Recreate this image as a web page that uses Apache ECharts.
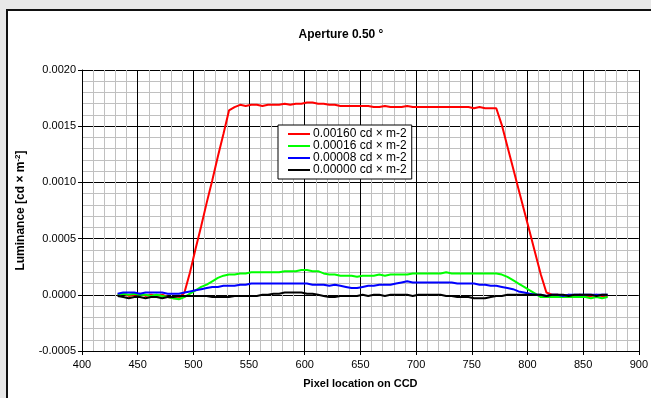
<!DOCTYPE html>
<html>
<head>
<meta charset="utf-8">
<script src="https://cdn.jsdelivr.net/npm/echarts@6/dist/echarts.min.js"></script>
<style>
  body { margin: 0; background: #e8e8e8; overflow: hidden; }
  #panel { position: absolute; left: 6px; top: 9px; width: 700px; height: 450px; border: 2px solid #111; background: #fff; }
  #chart { position: absolute; left: 0; top: 0; width: 651px; height: 398px; }
</style>
</head>
<body>
<div id="panel"></div>
<div id="chart"></div>
<script>
// pixel positions on the CCD (x values)
const pixels = [432, 437, 442, 447, 452, 457, 462, 467, 472, 477, 482, 487, 492, 497, 502, 507, 512, 517, 522, 527,
  532, 537, 542, 547, 552, 557, 562, 567, 572, 577, 582, 587, 592, 597, 602, 607, 612, 617, 622, 627,
  632, 637, 642, 647, 652, 657, 662, 667, 672, 677, 682, 687, 692, 697, 702, 707, 712, 717, 722, 727,
  732, 737, 742, 747, 752, 757, 762, 767, 772, 777, 782, 787, 792, 797, 802, 807, 812, 817, 822, 827,
  832, 837, 842, 847, 852, 857, 862, 867, 872]

const seriesNames = ['0.00160 cd × m-2', '0.00016 cd × m-2', '0.00008 cd × m-2', '0.00000 cd × m-2']
const seriesColors = ['#ff0000', '#00ff00', '#0000ff', '#000000']

const lum160 = [0.00000, 0.00001, -0.00001, 0.00000, 0.00001, -0.00001, 0.00000, -0.00001, 0.00000, -0.00002,
  -0.00003, -0.00003, 0.00002, 0.00020, 0.00041, 0.00061, 0.00082, 0.00102, 0.00123, 0.00143,
  0.00164, 0.00167, 0.00169, 0.00168, 0.00169, 0.00169, 0.00168, 0.00169, 0.00169, 0.00169,
  0.00170, 0.00169, 0.00170, 0.00170, 0.00171, 0.00171, 0.00170, 0.00170, 0.00169, 0.00169,
  0.00168, 0.00168, 0.00168, 0.00168, 0.00168, 0.00168, 0.00167, 0.00167, 0.00168, 0.00167,
  0.00167, 0.00167, 0.00168, 0.00167, 0.00167, 0.00167, 0.00167, 0.00167, 0.00167, 0.00167,
  0.00167, 0.00167, 0.00167, 0.00167, 0.00166, 0.00167, 0.00166, 0.00166, 0.00166, 0.00151,
  0.00132, 0.00113, 0.00094, 0.00075, 0.00056, 0.00037, 0.00018, 0.00002, 0.00000, 0.00000,
  -0.00001, 0.00000, -0.00001, 0.00000, -0.00001, -0.00001, 0.00000, -0.00001, -0.00001]

const lum016 = [0.00000, 0.00001, 0.00000, 0.00001, 0.00000, 0.00000, -0.00001, 0.00000, -0.00001, -0.00002,
  -0.00003, -0.00004, -0.00002, 0.00001, 0.00004, 0.00007, 0.00009, 0.00012, 0.00015, 0.00017,
  0.00018, 0.00018, 0.00019, 0.00019, 0.00020, 0.00020, 0.00020, 0.00020, 0.00020, 0.00020,
  0.00021, 0.00021, 0.00021, 0.00022, 0.00022, 0.00021, 0.00021, 0.00019, 0.00018, 0.00018,
  0.00017, 0.00017, 0.00017, 0.00016, 0.00017, 0.00017, 0.00017, 0.00018, 0.00017, 0.00018,
  0.00018, 0.00018, 0.00018, 0.00019, 0.00019, 0.00019, 0.00019, 0.00019, 0.00019, 0.00020,
  0.00019, 0.00019, 0.00019, 0.00019, 0.00019, 0.00019, 0.00019, 0.00019, 0.00019, 0.00018,
  0.00016, 0.00013, 0.00010, 0.00007, 0.00004, 0.00001, -0.00002, -0.00002, -0.00002, -0.00002,
  -0.00002, -0.00002, -0.00002, -0.00002, -0.00002, -0.00003, -0.00002, -0.00003, -0.00002]

const lum008 = [0.00001, 0.00002, 0.00002, 0.00002, 0.00001, 0.00002, 0.00002, 0.00002, 0.00002, 0.00001,
  0.00001, 0.00001, 0.00002, 0.00003, 0.00004, 0.00005, 0.00006, 0.00007, 0.00007, 0.00008,
  0.00008, 0.00008, 0.00009, 0.00009, 0.00010, 0.00010, 0.00010, 0.00010, 0.00010, 0.00010,
  0.00010, 0.00010, 0.00010, 0.00010, 0.00010, 0.00009, 0.00009, 0.00009, 0.00008, 0.00009,
  0.00008, 0.00007, 0.00006, 0.00006, 0.00007, 0.00008, 0.00008, 0.00009, 0.00009, 0.00009,
  0.00010, 0.00011, 0.00012, 0.00011, 0.00011, 0.00011, 0.00011, 0.00011, 0.00011, 0.00011,
  0.00011, 0.00010, 0.00010, 0.00010, 0.00010, 0.00009, 0.00009, 0.00008, 0.00008, 0.00007,
  0.00006, 0.00005, 0.00003, 0.00002, 0.00001, 0.00000, 0.00000, -0.00001, 0.00000, 0.00000,
  -0.00001, 0.00000, 0.00000, 0.00000, 0.00000, 0.00000, 0.00000, 0.00000, 0.00000]

const lum000 = [-0.00001, -0.00002, -0.00003, -0.00002, -0.00002, -0.00003, -0.00002, -0.00002, -0.00003, -0.00002,
  -0.00002, -0.00001, -0.00001, -0.00001, -0.00001, -0.00001, -0.00001, -0.00002, -0.00002, -0.00002,
  -0.00002, -0.00001, -0.00001, -0.00001, -0.00001, -0.00001, 0.00000, 0.00000, 0.00001, 0.00001,
  0.00002, 0.00002, 0.00002, 0.00002, 0.00001, 0.00001, 0.00000, -0.00001, -0.00002, -0.00002,
  -0.00001, -0.00001, -0.00001, -0.00001, 0.00000, -0.00001, 0.00000, 0.00000, -0.00001, 0.00000,
  0.00000, 0.00000, 0.00000, -0.00001, 0.00000, 0.00000, 0.00000, 0.00000, 0.00000, -0.00001,
  -0.00001, -0.00002, -0.00002, -0.00002, -0.00003, -0.00003, -0.00003, -0.00002, -0.00001, -0.00001,
  0.00000, 0.00000, 0.00000, 0.00000, 0.00000, 0.00000, 0.00000, -0.00001, 0.00000, 0.00000,
  0.00000, -0.00001, 0.00000, 0.00000, 0.00000, 0.00000, -0.00001, 0.00000, 0.00000]

const allSeries = [lum160, lum016, lum008, lum000]

const font = 'Arial, "Liberation Sans", sans-serif'

let chart = echarts.init(document.getElementById('chart'))
chart.setOption({
  animation: false,
  backgroundColor: 'transparent',
  title: {
    text: 'Aperture 0.50 °',
    left: 336,
    top: 24,
    textAlign: 'center',
    textStyle: { fontFamily: font, fontSize: 12, fontWeight: 'bold', color: '#000' }
  },
  legend: {
    orient: 'vertical',
    left: 278,
    top: 125,
    padding: [3, 5, 3, 10],
    itemGap: 0,
    itemWidth: 22,
    itemHeight: 2,
    icon: 'rect',
    backgroundColor: '#fff',
    borderColor: '#000',
    borderWidth: 1,
    borderRadius: 0,
    textStyle: { fontFamily: font, fontSize: 12, color: '#000', lineHeight: 12, padding: [0, 0, 0, -2] },
    data: seriesNames
  },
  grid: { left: 82, top: 70, right: 10, bottom: 47, containLabel: false },
  xAxis: {
    type: 'value',
    min: 400,
    max: 900,
    interval: 50,
    name: 'Pixel location on CCD',
    nameLocation: 'middle',
    nameGap: 27,
    nameTextStyle: { fontFamily: font, fontSize: 11, fontWeight: 'bold', color: '#000' },
    axisLine: { onZero: false, lineStyle: { color: '#000', width: 1 } },
    axisTick: { show: true, length: 4, lineStyle: { color: '#000' } },
    axisLabel: { fontFamily: font, fontSize: 11, color: '#000', margin: 8 },
    splitLine: { show: true, lineStyle: { color: '#000', width: 1 } },
    minorTick: { show: false, splitNumber: 5 },
    minorSplitLine: { show: true, lineStyle: { color: '#c0c0c0', width: 1 } }
  },
  yAxis: {
    type: 'value',
    min: -0.0005,
    max: 0.002,
    interval: 0.0005,
    name: 'Luminance [cd × m{sup|-2}]',
    nameLocation: 'middle',
    nameGap: 52,
    nameRotate: 90,
    nameTextStyle: {
      fontFamily: font, fontSize: 12, fontWeight: 'bold', color: '#000', lineHeight: 14,
      rich: {
        sup: { fontFamily: font, fontSize: 8, fontWeight: 'bold', color: '#000', verticalAlign: 'top', lineHeight: 14 }
      }
    },
    axisLine: { show: true, lineStyle: { color: '#000', width: 1 } },
    axisTick: { show: true, length: 4, lineStyle: { color: '#000' } },
    axisLabel: {
      fontFamily: font, fontSize: 11, color: '#000', margin: 6,
      formatter: v => v.toFixed(4)
    },
    splitLine: { show: true, lineStyle: { color: '#000', width: 1 } },
    minorTick: { show: false, splitNumber: 5 },
    minorSplitLine: { show: true, lineStyle: { color: '#c0c0c0', width: 1 } }
  },
  series: allSeries.map((vals, i) => ({
    name: seriesNames[i],
    type: 'line',
    showSymbol: false,
    symbol: 'none',
    color: seriesColors[i],
    lineStyle: { width: 2, color: seriesColors[i] },
    data: pixels.map((p, k) => [p, vals[k]])
  }))
})
</script>
</body>
</html>
